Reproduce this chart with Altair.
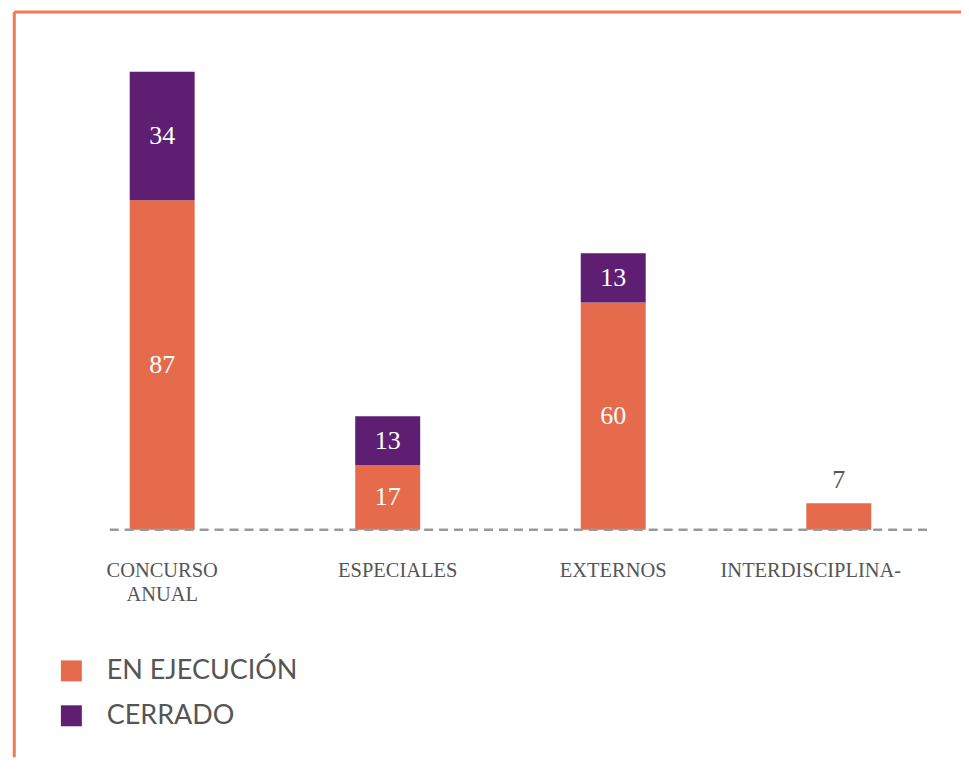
import altair as alt
import pandas as pd

categories = ["CONCURSO ANUAL", "ESPECIALES", "EXTERNOS", "INTERDISCIPLINA-"]
en_ejecucion = [87, 17, 60, 7]
cerrado = [34, 13, 13, 0]
estados = ["EN EJECUCIÓN", "CERRADO"]
colors = ["#E66B4C", "#5E1F72"]

rows = []
for cat, a, b in zip(categories, en_ejecucion, cerrado):
    start = 0
    for est, v in zip(estados, (a, b)):
        if v > 0:
            rows.append(dict(cat=cat, estado=est, value=v, start=start,
                             end=start + v, mid=start + v / 2))
        start += v
df = pd.DataFrame(rows)
ymax = max(a + b for a, b in zip(en_ejecucion, cerrado))

serif = "Liberation Serif"
gray = "#555555"
frame_color = "#F47B50"

x = alt.X(
    "cat:N", sort=categories,
    scale=alt.Scale(range=[41.5, 945.5], paddingInner=0.712, paddingOuter=0.356),
    axis=alt.Axis(title=None, domain=False, ticks=False, grid=False, labelAngle=0,
                  labelFont=serif, labelFontSize=20.5, labelColor=gray,
                  labelPadding=31, labelLineHeight=24, labelLimit=0,
                  labelOverlap=False, labelBound=False,
                  labelExpr="split(datum.value, ' ')",
                  labelOffset={"condition": [
                      {"test": "datum.value === 'INTERDISCIPLINA-'", "value": -28},
                      {"test": "datum.value === 'ESPECIALES'", "value": 10},
                  ], "value": 0}),
)
yscale = alt.Scale(domain=[0, ymax], range=[522, 63], nice=False, zero=True)

base = alt.Chart(df)

bars = base.mark_bar().encode(
    x=x,
    y=alt.Y("start:Q", scale=yscale, axis=None),
    y2="end:Q",
    color=alt.Color("estado:N", scale=alt.Scale(domain=estados, range=colors),
                    legend=alt.Legend(title=None, orient="none", legendX=50, legendY=650,
                                      symbolType="square", symbolSize=441, symbolStrokeWidth=0,
                                      labelFont="Lato", labelFontSize=27, labelColor=gray,
                                      labelOffset=22, rowPadding=17, padding=0, labelLimit=0,
                                      direction="vertical")),
)

inside = base.transform_filter("datum.value >= 10").mark_text(
    font=serif, fontSize=26, color="white", baseline="middle"
).encode(x=x, y=alt.Y("mid:Q", scale=yscale, axis=None), text="value:Q")

outside = base.transform_filter("datum.value < 10").mark_text(
    font=serif, fontSize=26, color=gray, baseline="alphabetic", dy=-15
).encode(x=x, y=alt.Y("end:Q", scale=yscale, axis=None), text="value:Q")

one = pd.DataFrame({"z": [0]})
baseline = alt.Chart(one).mark_rule(color="#999999", strokeWidth=2.5, strokeDash=[9, 6]).encode(
    x=alt.value(102), x2=alt.value(927), y=alt.Y("z:Q", scale=yscale, axis=None)
)
frame_top = alt.Chart(one).mark_rule(color=frame_color, strokeWidth=3).encode(
    x=alt.value(6.3), x2=alt.value(961), y=alt.value(3.3)
)
frame_left = alt.Chart(one).mark_rule(color=frame_color, strokeWidth=3).encode(
    x=alt.value(6.3), y=alt.value(3.3), y2=alt.value(750)
)

chart = alt.layer(bars, inside, outside, baseline, frame_top, frame_left).properties(
    width=955, height=522,
    autosize=alt.AutoSizeParams(type="none"),
    padding={"left": 0, "top": 0, "right": 0, "bottom": 228},
).configure_view(stroke=None)

chart.save("out.html", embed_options={"renderer": "svg", "actions": False})
